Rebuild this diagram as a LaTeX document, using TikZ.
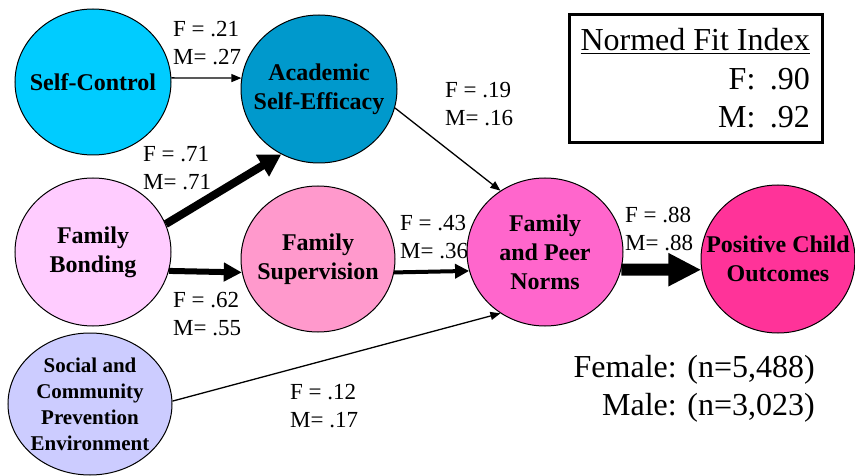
\documentclass[tikz,border=0pt]{standalone}
\usepackage{fontspec}
\setmainfont{Liberation Serif}
\usetikzlibrary{shapes.geometric,arrows.meta}
\definecolor{cSC}{HTML}{00CCFF}
\definecolor{cASE}{HTML}{0099CC}
\definecolor{cFB}{HTML}{FFCCFF}
\definecolor{cFS}{HTML}{FF99CC}
\definecolor{cSOC}{HTML}{CCCCFF}
\definecolor{cFPN}{HTML}{FF66CC}
\definecolor{cPCO}{HTML}{FF3399}
\begin{document}
\begin{tikzpicture}[x=1pt,y=-1pt,
  ell/.style={ellipse,draw=black,line width=1pt,inner sep=0pt},
  ntxt/.style={align=center,inner sep=0pt,font=\bfseries\fontsize{24}{29}\selectfont},
  elab/.style={anchor=west,align=left,inner sep=0pt,font=\fontsize{23}{28}\selectfont},
  bigtxt/.style={anchor=base east,inner sep=0pt,font=\fontsize{32}{38}\selectfont},
  thinarr/.style={line width=1.3pt,-{Triangle[length=10pt,width=8pt]}},
  medarr/.style={line width=4pt,-{Triangle[length=14pt,width=14pt]}},
  thickarr/.style={line width=6pt,-{Triangle[length=18pt,width=18pt]}},
  heavyarr/.style={line width=8pt,-{Triangle[length=22pt,width=24pt]}},
  blockarr/.style={line width=12pt,-{Triangle[length=33pt,width=31pt]}},
]
\useasboundingbox (0,0) rectangle (855,476);
% edge labels
\node[elab] (l1) at (173,43) {F = .21\\M= .27};
\node[elab] (l2) at (143,168) {F = .71\\M= .71};
\node[elab] (l3) at (173,314) {F = .62\\M= .55};
\node[elab] (l4) at (445,104) {F = .19\\M= .16};
\node[elab] (l5) at (400,237) {F = .43\\M= .36};
\node[elab] (l6) at (625,229) {F = .88\\M= .88};
\node[elab] (l7) at (290,406) {F = .12\\M= .17};
% nodes
\node[ell,fill=cSC,minimum width=156pt,minimum height=146pt] (sc) at (93,82) {};
\node[ntxt] (sct) at (sc.center) {Self-Control};
\node[ell,fill=cASE,minimum width=156pt,minimum height=148pt] (ase) at (319,89) {};
\node[ntxt] (aset) at (ase.center) {Academic\\Self-Efficacy};
\node[ell,fill=cFB,minimum width=156pt,minimum height=148pt] (fb) at (93,252) {};
\node[ntxt] (fbt) at (fb.center) {Family\\Bonding};
\node[ell,fill=cFS,minimum width=154pt,minimum height=146pt] (fs) at (318,259) {};
\node[ntxt] (fst) at (fs.center) {Family\\Supervision};
\node[ell,fill=cSOC,minimum width=164pt,minimum height=142pt] (soc) at (90,404) {};
\node[ntxt,font=\bfseries\fontsize{21}{26}\selectfont] (soct) at (soc.center) {Social and\\Community\\Prevention\\Environment};
\node[ell,fill=cFPN,minimum width=156pt,minimum height=148pt] (fpn) at (545,252) {};
\node[ntxt] (fpnt) at (fpn.center) {Family\\and Peer\\Norms};
\node[ell,fill=cPCO,minimum width=154pt,minimum height=148pt] (pco) at (778,259) {};
\node[ntxt] (pcot) at (pco.center) {Positive Child\\Outcomes};
% connectors
\draw[thinarr] (sc.3) -- (ase.172);
\draw[heavyarr] (fb.21) -- (ase.240);
\draw[thickarr] (fb.-14) -- (fs.190);
\draw[thinarr] (ase.-14) -- (fpn.126);
\draw[medarr] (fs.-10) -- (fpn.194);
\draw[blockarr] (fpn.-13) -- (pco.188);
\draw[thinarr] (soc.2) -- (fpn.234);
% fit index box
\node[draw=black,line width=3pt,minimum width=253pt,minimum height=128pt,inner sep=0pt] (box) at (695.5,79) {};
\node[bigtxt] (nfi) at (810,51) {\underline{Normed Fit Index}};
\node[bigtxt] (nf) at (810,90) {F:\hspace{0.45em}.90};
\node[bigtxt] (nm) at (810,128) {M:\hspace{0.45em}.92};
% sample sizes
\node[bigtxt] (fem) at (815,377) {Female: (n=5,488)};
\node[bigtxt] (mal) at (815,415) {Male: (n=3,023)};
\end{tikzpicture}
\end{document}
